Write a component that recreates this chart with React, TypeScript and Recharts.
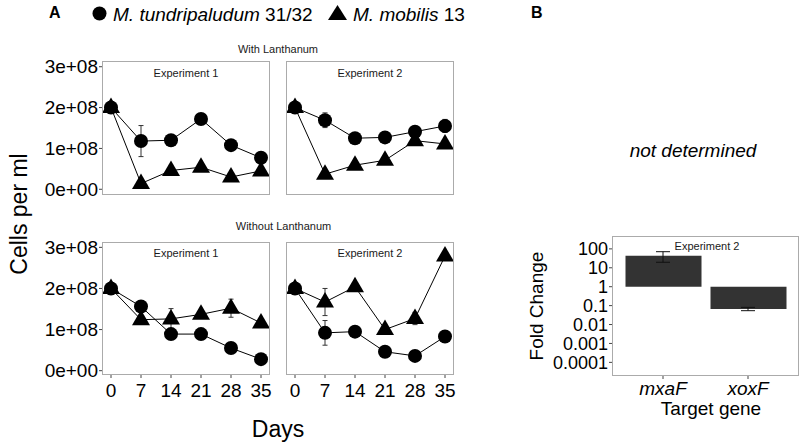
import React from "react";
import { LineChart, ComposedChart, Line, Bar, XAxis, YAxis, ErrorBar } from "recharts";

const days = [0, 7, 14, 21, 28, 35];
const dayTicks = [0, 7, 14, 21, 28, 35];
const cellTicks = [0, 1e8, 2e8, 3e8];

// With Lanthanum, Experiment 1
const withLaExp1Tundri = [2.0e8, 1.18e8, 1.2e8, 1.72e8, 1.08e8, 0.77e8];
const withLaExp1TundriErr = [null, 0.38e8, null, null, null, null];
const withLaExp1Mobilis = [2.0e8, 0.14e8, 0.46e8, 0.54e8, 0.3e8, 0.45e8];
const withLaExp1MobilisErr = [null, null, null, null, null, null];

// With Lanthanum, Experiment 2
const withLaExp2Tundri = [2.0e8, 1.69e8, 1.25e8, 1.27e8, 1.41e8, 1.55e8];
const withLaExp2TundriErr = [null, 0.18e8, null, null, null, 0.16e8];
const withLaExp2Mobilis = [2.0e8, 0.37e8, 0.59e8, 0.71e8, 1.19e8, 1.11e8];
const withLaExp2MobilisErr = [null, null, null, null, null, null];

// Without Lanthanum, Experiment 1
const noLaExp1Tundri = [2.0e8, 1.56e8, 0.89e8, 0.89e8, 0.55e8, 0.28e8];
const noLaExp1TundriErr = [null, null, null, null, null, null];
const noLaExp1Mobilis = [2.0e8, 1.24e8, 1.26e8, 1.37e8, 1.52e8, 1.16e8];
const noLaExp1MobilisErr = [null, null, 0.25e8, 0.1e8, 0.22e8, null];

// Without Lanthanum, Experiment 2
const noLaExp2Tundri = [2.0e8, 0.92e8, 0.95e8, 0.46e8, 0.36e8, 0.83e8];
const noLaExp2TundriErr = [null, 0.3e8, null, null, null, null];
const noLaExp2Mobilis = [2.0e8, 1.67e8, 2.04e8, 1.0e8, 1.27e8, 2.79e8];
const noLaExp2MobilisErr = [null, 0.33e8, null, null, 0.15e8, null];

// Fold change (panel B)
const genes = ["mxaF", "xoxF"];
const foldLow = [1, 0.066];
const foldHigh = [44, 1];
const foldErrCenter = [44, 0.066];
const foldErrLow = [19.6, 0.054];
const foldErrHigh = [71, 0.081];
const foldTicks = [0.0001, 0.001, 0.01, 0.1, 1, 10, 100];

const makeRows = (t: any[], tErr: any[], m: any[], mErr: any[]) =>
  days.map((day, i) => ({ day, tundri: t[i], tundriErr: tErr[i], mobilis: m[i], mobilisErr: mErr[i] }));

const foldRows = genes.map((gene, i) => ({
  gene,
  range: [foldLow[i], foldHigh[i]],
  errMid: foldErrCenter[i],
  err: [foldErrCenter[i] - foldErrLow[i], foldErrHigh[i] - foldErrCenter[i]],
}));

const fmtCells = (v: number) => (v === 0 ? "0e+00" : `${v / 1e8}e+08`);

const CircleDot = (props: any) => {
  const { cx, cy, index } = props;
  if (cx == null || cy == null) return <g key={`c${index}`} />;
  return <circle key={`c${index}`} cx={cx} cy={cy} r={7} fill="#000" />;
};

const TriangleDot = (props: any) => {
  const { cx, cy, index } = props;
  if (cx == null || cy == null) return <g key={`t${index}`} />;
  return (
    <polygon key={`t${index}`} points={`${cx},${cy - 10} ${cx + 9},${cy + 5.5} ${cx - 9},${cy + 5.5}`} fill="#000" />
  );
};

const PLOT_W = 168;
const PAD = 12; // room around the plot so edge tick labels are not clipped

function Panel({ left, top, plotH, rows, yDomain, yLabels, xLabels }: any) {
  const yW = yLabels ? 62 : 4;
  const xH = xLabels ? 32 : 4;
  return (
    <div style={{ position: "absolute", left: left - yW, top: top - PAD }}>
      <LineChart
        width={PLOT_W + yW + PAD}
        height={plotH + xH + PAD}
        data={rows}
        margin={{ top: PAD, right: PAD, bottom: 0, left: 0 }}
      >
        <XAxis
          dataKey="day"
          type="number"
          domain={[-2.1, 37.1]}
          allowDataOverflow
          ticks={dayTicks}
          interval={0}
          height={xH}
          axisLine={false}
          tickLine={{ stroke: "#444" }}
          tickSize={3}
          tickMargin={6}
          tick={xLabels ? { fill: "#000", fontSize: 19 } : false}
        />
        <YAxis
          type="number"
          domain={yDomain}
          allowDataOverflow
          ticks={cellTicks}
          interval={0}
          width={yW}
          axisLine={false}
          tickLine={{ stroke: "#444" }}
          tickSize={3}
          tickMargin={1}
          tick={yLabels ? { fill: "#000", fontSize: 19 } : false}
          tickFormatter={fmtCells}
        />
        <Line dataKey="tundri" stroke="#000" strokeWidth={1} dot={false} activeDot={false} isAnimationActive={false} />
        <Line dataKey="mobilis" stroke="#000" strokeWidth={1} dot={false} activeDot={false} isAnimationActive={false} />
        <Line dataKey="tundri" stroke="none" dot={CircleDot} activeDot={false} isAnimationActive={false}>
          <ErrorBar dataKey="tundriErr" width={2.5} stroke="#333" strokeWidth={1} direction="y" />
        </Line>
        <Line dataKey="mobilis" stroke="none" dot={TriangleDot} activeDot={false} isAnimationActive={false}>
          <ErrorBar dataKey="mobilisErr" width={2.5} stroke="#333" strokeWidth={1} direction="y" />
        </Line>
      </LineChart>
      <div
        style={{
          position: "absolute",
          left: yW,
          top: PAD,
          width: PLOT_W,
          height: plotH,
          border: "1px solid #ababab",
          boxSizing: "border-box",
          pointerEvents: "none",
        }}
      />
    </div>
  );
}

function FoldChart() {
  const yW = 72;
  return (
    <div style={{ position: "absolute", left: 612 - yW, top: 236 - PAD }}>
      <ComposedChart
        width={187 + yW}
        height={140 + 28 + PAD}
        data={foldRows}
        margin={{ top: PAD, right: 0, bottom: 0, left: 0 }}
      >
        <XAxis
          dataKey="gene"
          type="category"
          padding={{ left: 8.5, right: 8.5 }}
          height={28}
          axisLine={false}
          tickLine={{ stroke: "#444" }}
          tickSize={3}
          tickMargin={3}
          interval={0}
          tick={{ fill: "#000", fontSize: 19, fontStyle: "italic" }}
        />
        <YAxis
          scale="log"
          type="number"
          domain={[1.9e-5, 480]}
          allowDataOverflow
          ticks={foldTicks}
          interval={0}
          width={yW}
          axisLine={false}
          tickLine={{ stroke: "#444" }}
          tickSize={3}
          tickMargin={1}
          tick={{ fill: "#000", fontSize: 18 }}
          tickFormatter={(v: number) => String(v)}
        />
        <Bar dataKey="range" fill="#333333" barSize={76} isAnimationActive={false} />
        <Line dataKey="errMid" stroke="none" dot={false} activeDot={false} isAnimationActive={false}>
          <ErrorBar dataKey="err" width={7} stroke="#111" strokeWidth={1} direction="y" />
        </Line>
      </ComposedChart>
      <div
        style={{
          position: "absolute",
          left: yW,
          top: PAD,
          width: 187,
          height: 140,
          border: "1px solid #ababab",
          boxSizing: "border-box",
          pointerEvents: "none",
        }}
      />
    </div>
  );
}

export default function App() {
  const topDomain = [-0.14e8, 3.14e8];
  const bottomDomain = [-0.105e8, 3.13e8];
  return (
    <div
      style={{
        position: "absolute",
        left: 0,
        top: 0,
        width: 800,
        height: 445,
        background: "#fff",
        overflow: "hidden",
        fontFamily: '"Liberation Sans", Arial, sans-serif',
      }}
    >
      <Panel left={102} top={61} plotH={134} rows={makeRows(withLaExp1Tundri, withLaExp1TundriErr, withLaExp1Mobilis, withLaExp1MobilisErr)} yDomain={topDomain} yLabels xLabels={false} />
      <Panel left={286} top={61} plotH={134} rows={makeRows(withLaExp2Tundri, withLaExp2TundriErr, withLaExp2Mobilis, withLaExp2MobilisErr)} yDomain={topDomain} yLabels={false} xLabels={false} />
      <Panel left={102} top={242} plotH={133} rows={makeRows(noLaExp1Tundri, noLaExp1TundriErr, noLaExp1Mobilis, noLaExp1MobilisErr)} yDomain={bottomDomain} yLabels xLabels />
      <Panel left={286} top={242} plotH={133} rows={makeRows(noLaExp2Tundri, noLaExp2TundriErr, noLaExp2Mobilis, noLaExp2MobilisErr)} yDomain={bottomDomain} yLabels={false} xLabels />
      <FoldChart />
      <svg width={800} height={445} style={{ position: "absolute", left: 0, top: 0, pointerEvents: "none" }} fontFamily='"Liberation Sans", Arial, sans-serif'>
        <text x={49} y={18} fontSize={16} fontWeight="bold" fill="#000">A</text>
        <circle cx={99.5} cy={13.5} r={7} fill="#000" />
        <text x={113} y={20.5} fontSize={19} fill="#000">
          <tspan fontStyle="italic">M. tundripaludum</tspan> 31/32
        </text>
        <polygon points="337.5,5 347,20 328,20" fill="#000" />
        <text x={353} y={20.5} fontSize={19} fill="#000">
          <tspan fontStyle="italic">M. mobilis</tspan> 13
        </text>
        <text x={531} y={18} fontSize={16} fontWeight="bold" fill="#000">B</text>
        <text x={278} y={53} fontSize={11} textAnchor="middle" fill="#1a1a1a">With Lanthanum</text>
        <text x={283.5} y={229.5} fontSize={11} textAnchor="middle" fill="#1a1a1a">Without Lanthanum</text>
        <text x={186} y={77} fontSize={11} textAnchor="middle" fill="#1a1a1a">Experiment 1</text>
        <text x={370} y={77} fontSize={11} textAnchor="middle" fill="#1a1a1a">Experiment 2</text>
        <text x={186} y={257} fontSize={11} textAnchor="middle" fill="#1a1a1a">Experiment 1</text>
        <text x={370} y={257} fontSize={11} textAnchor="middle" fill="#1a1a1a">Experiment 2</text>
        <text x={707} y={250} fontSize={11} textAnchor="middle" fill="#1a1a1a">Experiment 2</text>
        <text x={27} y={214} fontSize={23} textAnchor="middle" fill="#000" transform="rotate(-90 27 214)">Cells per ml</text>
        <text x={278} y={436.5} fontSize={23} textAnchor="middle" fill="#000">Days</text>
        <text x={693} y={157} fontSize={19} fontStyle="italic" textAnchor="middle" fill="#000">not determined</text>
        <text x={543} y={306} fontSize={19} textAnchor="middle" fill="#000" transform="rotate(-90 543 306)">Fold Change</text>
        <text x={711} y={415} fontSize={19} textAnchor="middle" fill="#000">Target gene</text>
      </svg>
    </div>
  );
}
